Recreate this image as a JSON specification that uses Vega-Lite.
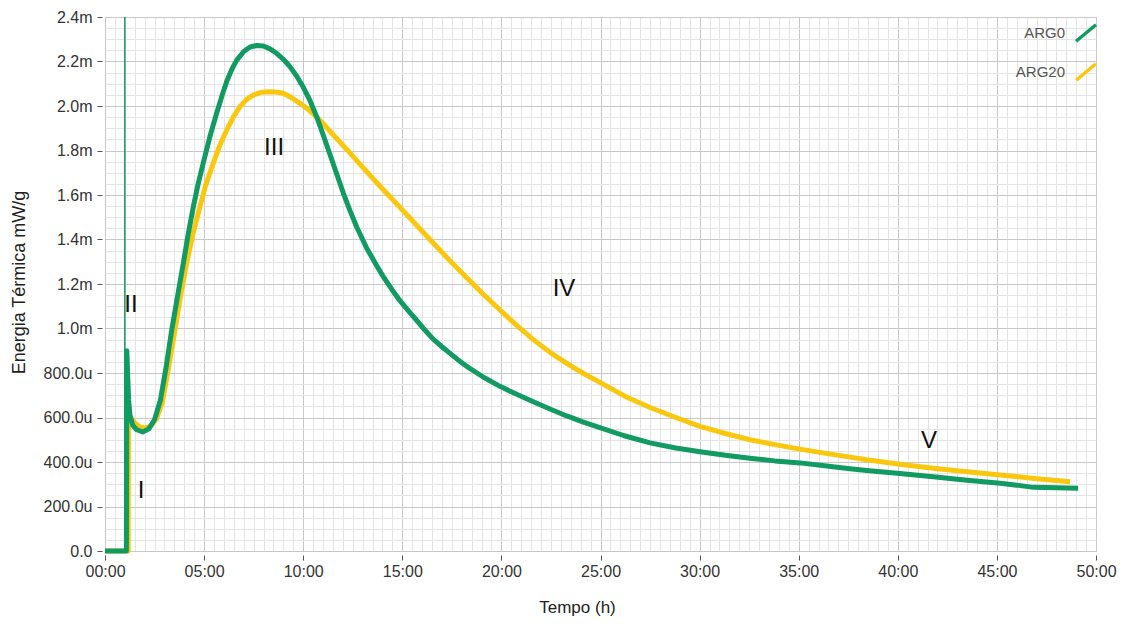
{
  "$schema": "https://vega.github.io/schema/vega-lite/v6.json",
  "width": 991,
  "height": 534,
  "autosize": {"type": "none"},
  "padding": {"left": 105, "top": 17, "right": 33, "bottom": 77},
  "background": "white",
  "config": {"view": {"stroke": "#a8a8a8", "strokeWidth": 1}, "font": "Liberation Sans"},
  "datasets": {
    "curves": [
      {"serie": "ARG20", "t": 0, "e": 0},
      {"serie": "ARG20", "t": 1.17, "e": 0},
      {"serie": "ARG20", "t": 1.19, "e": 0.6},
      {"serie": "ARG20", "t": 1.3, "e": 0.6},
      {"serie": "ARG20", "t": 1.5, "e": 0.575},
      {"serie": "ARG20", "t": 1.75, "e": 0.558},
      {"serie": "ARG20", "t": 2.0, "e": 0.552},
      {"serie": "ARG20", "t": 2.3, "e": 0.56},
      {"serie": "ARG20", "t": 2.6, "e": 0.595},
      {"serie": "ARG20", "t": 2.9, "e": 0.67},
      {"serie": "ARG20", "t": 3.2, "e": 0.82},
      {"serie": "ARG20", "t": 3.53, "e": 0.993},
      {"serie": "ARG20", "t": 3.8, "e": 1.14},
      {"serie": "ARG20", "t": 4.12, "e": 1.293},
      {"serie": "ARG20", "t": 4.45, "e": 1.43},
      {"serie": "ARG20", "t": 4.79, "e": 1.548},
      {"serie": "ARG20", "t": 5.1, "e": 1.65},
      {"serie": "ARG20", "t": 5.46, "e": 1.742},
      {"serie": "ARG20", "t": 5.8, "e": 1.825},
      {"serie": "ARG20", "t": 6.14, "e": 1.892},
      {"serie": "ARG20", "t": 6.47, "e": 1.95},
      {"serie": "ARG20", "t": 6.81, "e": 1.997},
      {"serie": "ARG20", "t": 7.15, "e": 2.03},
      {"serie": "ARG20", "t": 7.48, "e": 2.049},
      {"serie": "ARG20", "t": 7.9, "e": 2.062},
      {"serie": "ARG20", "t": 8.33, "e": 2.064},
      {"serie": "ARG20", "t": 8.7, "e": 2.062},
      {"serie": "ARG20", "t": 9.0, "e": 2.057},
      {"serie": "ARG20", "t": 9.4, "e": 2.038},
      {"serie": "ARG20", "t": 9.84, "e": 2.012},
      {"serie": "ARG20", "t": 10.25, "e": 1.985},
      {"serie": "ARG20", "t": 10.68, "e": 1.95},
      {"serie": "ARG20", "t": 11.1, "e": 1.912},
      {"serie": "ARG20", "t": 11.5, "e": 1.872},
      {"serie": "ARG20", "t": 12.3, "e": 1.795},
      {"serie": "ARG20", "t": 13.1, "e": 1.715},
      {"serie": "ARG20", "t": 13.9, "e": 1.637},
      {"serie": "ARG20", "t": 14.88, "e": 1.545},
      {"serie": "ARG20", "t": 15.7, "e": 1.466},
      {"serie": "ARG20", "t": 16.56, "e": 1.384},
      {"serie": "ARG20", "t": 17.41, "e": 1.304},
      {"serie": "ARG20", "t": 18.25, "e": 1.228},
      {"serie": "ARG20", "t": 19.1, "e": 1.153},
      {"serie": "ARG20", "t": 19.93, "e": 1.083},
      {"serie": "ARG20", "t": 20.77, "e": 1.014},
      {"serie": "ARG20", "t": 21.61, "e": 0.95},
      {"serie": "ARG20", "t": 22.45, "e": 0.893},
      {"serie": "ARG20", "t": 23.3, "e": 0.843},
      {"serie": "ARG20", "t": 24.1, "e": 0.8},
      {"serie": "ARG20", "t": 24.97, "e": 0.758},
      {"serie": "ARG20", "t": 26.2, "e": 0.697},
      {"serie": "ARG20", "t": 27.5, "e": 0.645},
      {"serie": "ARG20", "t": 28.8, "e": 0.6},
      {"serie": "ARG20", "t": 30.02, "e": 0.56},
      {"serie": "ARG20", "t": 31.3, "e": 0.528},
      {"serie": "ARG20", "t": 32.54, "e": 0.5},
      {"serie": "ARG20", "t": 33.8, "e": 0.478},
      {"serie": "ARG20", "t": 35.07, "e": 0.458},
      {"serie": "ARG20", "t": 36.3, "e": 0.44},
      {"serie": "ARG20", "t": 37.59, "e": 0.422},
      {"serie": "ARG20", "t": 38.43, "e": 0.41},
      {"serie": "ARG20", "t": 40.1, "e": 0.39},
      {"serie": "ARG20", "t": 41.79, "e": 0.372},
      {"serie": "ARG20", "t": 43.5, "e": 0.356},
      {"serie": "ARG20", "t": 45.16, "e": 0.342},
      {"serie": "ARG20", "t": 46.9, "e": 0.326},
      {"serie": "ARG20", "t": 48.69, "e": 0.311},
      {"serie": "ARG0", "t": 0, "e": 0},
      {"serie": "ARG0", "t": 1.08, "e": 0},
      {"serie": "ARG0", "t": 1.1, "e": 0.9},
      {"serie": "ARG0", "t": 1.14, "e": 0.8},
      {"serie": "ARG0", "t": 1.19, "e": 0.68},
      {"serie": "ARG0", "t": 1.26, "e": 0.61},
      {"serie": "ARG0", "t": 1.4, "e": 0.565},
      {"serie": "ARG0", "t": 1.6, "e": 0.545},
      {"serie": "ARG0", "t": 1.9, "e": 0.535},
      {"serie": "ARG0", "t": 2.2, "e": 0.548},
      {"serie": "ARG0", "t": 2.5, "e": 0.59},
      {"serie": "ARG0", "t": 2.8, "e": 0.68},
      {"serie": "ARG0", "t": 3.1, "e": 0.835},
      {"serie": "ARG0", "t": 3.36, "e": 0.99},
      {"serie": "ARG0", "t": 3.65, "e": 1.14},
      {"serie": "ARG0", "t": 3.95, "e": 1.293},
      {"serie": "ARG0", "t": 4.2, "e": 1.425},
      {"serie": "ARG0", "t": 4.46, "e": 1.548},
      {"serie": "ARG0", "t": 4.7, "e": 1.65},
      {"serie": "ARG0", "t": 4.96, "e": 1.745},
      {"serie": "ARG0", "t": 5.3, "e": 1.865},
      {"serie": "ARG0", "t": 5.63, "e": 1.967},
      {"serie": "ARG0", "t": 5.9, "e": 2.045},
      {"serie": "ARG0", "t": 6.14, "e": 2.11},
      {"serie": "ARG0", "t": 6.4, "e": 2.165},
      {"serie": "ARG0", "t": 6.64, "e": 2.205},
      {"serie": "ARG0", "t": 7.0, "e": 2.245},
      {"serie": "ARG0", "t": 7.32, "e": 2.265},
      {"serie": "ARG0", "t": 7.65, "e": 2.272},
      {"serie": "ARG0", "t": 7.99, "e": 2.27},
      {"serie": "ARG0", "t": 8.3, "e": 2.258},
      {"serie": "ARG0", "t": 8.66, "e": 2.237},
      {"serie": "ARG0", "t": 9.0, "e": 2.21},
      {"serie": "ARG0", "t": 9.33, "e": 2.177},
      {"serie": "ARG0", "t": 9.67, "e": 2.135},
      {"serie": "ARG0", "t": 10.0, "e": 2.085},
      {"serie": "ARG0", "t": 10.34, "e": 2.025},
      {"serie": "ARG0", "t": 10.68, "e": 1.952},
      {"serie": "ARG0", "t": 11.0, "e": 1.872},
      {"serie": "ARG0", "t": 11.35, "e": 1.782},
      {"serie": "ARG0", "t": 11.7, "e": 1.692},
      {"serie": "ARG0", "t": 12.02, "e": 1.61},
      {"serie": "ARG0", "t": 12.36, "e": 1.53},
      {"serie": "ARG0", "t": 12.7, "e": 1.456},
      {"serie": "ARG0", "t": 13.2, "e": 1.362},
      {"serie": "ARG0", "t": 13.71, "e": 1.282},
      {"serie": "ARG0", "t": 14.04, "e": 1.233},
      {"serie": "ARG0", "t": 14.5, "e": 1.172},
      {"serie": "ARG0", "t": 14.88, "e": 1.125},
      {"serie": "ARG0", "t": 15.3, "e": 1.08},
      {"serie": "ARG0", "t": 15.73, "e": 1.036},
      {"serie": "ARG0", "t": 16.15, "e": 0.992},
      {"serie": "ARG0", "t": 16.56, "e": 0.952},
      {"serie": "ARG0", "t": 17.0, "e": 0.918},
      {"serie": "ARG0", "t": 17.41, "e": 0.888},
      {"serie": "ARG0", "t": 17.8, "e": 0.86},
      {"serie": "ARG0", "t": 18.25, "e": 0.83},
      {"serie": "ARG0", "t": 19.1, "e": 0.781},
      {"serie": "ARG0", "t": 19.93, "e": 0.74},
      {"serie": "ARG0", "t": 20.8, "e": 0.703},
      {"serie": "ARG0", "t": 21.61, "e": 0.671},
      {"serie": "ARG0", "t": 22.45, "e": 0.638},
      {"serie": "ARG0", "t": 23.3, "e": 0.607},
      {"serie": "ARG0", "t": 24.1, "e": 0.58},
      {"serie": "ARG0", "t": 24.97, "e": 0.555},
      {"serie": "ARG0", "t": 26.2, "e": 0.518},
      {"serie": "ARG0", "t": 27.5, "e": 0.486},
      {"serie": "ARG0", "t": 28.8, "e": 0.463},
      {"serie": "ARG0", "t": 30.02, "e": 0.446},
      {"serie": "ARG0", "t": 31.3, "e": 0.43},
      {"serie": "ARG0", "t": 32.54, "e": 0.417},
      {"serie": "ARG0", "t": 33.8, "e": 0.405},
      {"serie": "ARG0", "t": 35.07, "e": 0.396},
      {"serie": "ARG0", "t": 36.3, "e": 0.383},
      {"serie": "ARG0", "t": 37.59, "e": 0.37},
      {"serie": "ARG0", "t": 38.43, "e": 0.362},
      {"serie": "ARG0", "t": 40.1, "e": 0.348},
      {"serie": "ARG0", "t": 41.79, "e": 0.334},
      {"serie": "ARG0", "t": 43.5, "e": 0.318},
      {"serie": "ARG0", "t": 45.16, "e": 0.304},
      {"serie": "ARG0", "t": 46.0, "e": 0.296},
      {"serie": "ARG0", "t": 46.84, "e": 0.286},
      {"serie": "ARG0", "t": 48.0, "e": 0.284},
      {"serie": "ARG0", "t": 49.1, "e": 0.282}
    ],
    "notes": [
      {"t": 1.82, "e": 0.27, "label": "I"},
      {"t": 1.31, "e": 1.106, "label": "II"},
      {"t": 8.53, "e": 1.811, "label": "III"},
      {"t": 23.16, "e": 1.178, "label": "IV"},
      {"t": 41.57, "e": 0.494, "label": "V"}
    ],
    "cursor": [{"t": 1.0}]
  },
  "encoding": {
    "x": {
      "field": "t", "type": "quantitative",
      "scale": {"domain": [0, 50], "nice": false, "zero": false},
      "axis": {
        "title": "Tempo (h)",
        "tickCount": 100,
        "labelExpr": "datum.value % 5 === 0 ? (datum.value < 10 ? '0' : '') + datum.value + ':00' : ''",
        "gridColor": {"condition": {"test": "datum.value % 5 === 0", "value": "#c8c8c8"}, "value": "#e4e4e4"},
        "tickOpacity": {"condition": {"test": "datum.value % 5 === 0", "value": 1}, "value": 0},
        "tickColor": "#555555",
        "tickSize": 5,
        "offset": 4,
        "domain": false,
        "labelFont": "Liberation Sans",
        "labelFontSize": 16,
        "labelColor": "#333333",
        "labelPadding": 3,
        "labelOverlap": false,
        "labelFlush": false,
        "labelBound": false,
        "titleFont": "Liberation Sans",
        "titleFontSize": 17,
        "titleFontWeight": "normal",
        "titleColor": "#222222",
        "titleX": 472,
        "titleY": 57,
        "titleAlign": "center",
        "titleBaseline": "alphabetic"
      }
    }
  },
  "layer": [
    {
      "data": {"name": "curves"},
      "transform": [{"filter": "datum.serie === 'ARG20'"}],
      "mark": {"type": "line", "strokeWidth": 5, "strokeJoin": "round", "strokeCap": "butt"},
      "encoding": {
        "y": {
          "field": "e", "type": "quantitative",
          "scale": {"domain": [0, 2.4], "nice": false},
          "axis": {
            "title": "Energia Térmica mW/g",
            "tickCount": 48,
            "labelExpr": "abs(datum.value*5 - round(datum.value*5)) < 1e-6 ? (datum.value >= 0.999 ? format(datum.value, '.1f') + 'm' : (datum.value < 0.001 ? '0.0' : format(datum.value*1000, '.1f') + 'u')) : ''",
            "gridColor": {"condition": {"test": "abs(datum.value*5 - round(datum.value*5)) < 1e-6", "value": "#c8c8c8"}, "value": "#e4e4e4"},
            "tickOpacity": {"condition": {"test": "abs(datum.value*5 - round(datum.value*5)) < 1e-6", "value": 1}, "value": 0},
            "tickColor": "#555555",
            "tickSize": 5,
            "offset": 3,
            "domain": false,
            "labelFont": "Liberation Sans",
            "labelFontSize": 16,
            "labelColor": "#333333",
            "labelPadding": 5,
            "labelOverlap": false,
            "labelFlush": false,
            "labelBound": false,
            "titleFont": "Liberation Sans",
            "titleFontSize": 18,
            "titleFontWeight": "normal",
            "titleColor": "#222222",
            "titleX": -83,
            "titleY": 265,
            "titleAngle": -90,
            "titleAlign": "center",
            "titleBaseline": "middle"
          }
        },
        "color": {
          "field": "serie", "type": "nominal",
          "scale": {"domain": ["ARG0", "ARG20"], "range": ["#119a62", "#f9c80e"]},
          "legend": {
            "title": null,
            "orient": "none",
            "legendX": 968,
            "legendY": 3,
            "direction": "vertical",
            "symbolType": "M-0.9,0.75L0.9,-0.75",
            "symbolSize": 484,
            "symbolStrokeWidth": 3.5,
            "labelAlign": "right",
            "labelOffset": -34,
            "labelFont": "Liberation Sans",
            "labelFontSize": 15,
            "labelColor": "#555555",
            "rowPadding": 7,
            "padding": 0
          }
        }
      }
    },
    {
      "data": {"name": "curves"},
      "transform": [{"filter": "datum.serie === 'ARG0'"}],
      "mark": {"type": "line", "strokeWidth": 5, "strokeJoin": "round", "strokeCap": "butt"},
      "encoding": {
        "y": {"field": "e", "type": "quantitative"},
        "color": {"field": "serie", "type": "nominal"}
      }
    },
    {
      "data": {"name": "cursor"},
      "mark": {"type": "rule", "color": "#119a62", "strokeWidth": 1.5},
      "encoding": {}
    },
    {
      "data": {"name": "notes"},
      "mark": {"type": "text", "fontSize": 24, "color": "#111111", "font": "Liberation Sans", "baseline": "middle", "align": "center"},
      "encoding": {
        "y": {"field": "e", "type": "quantitative"},
        "text": {"field": "label"}
      }
    }
  ]
}
